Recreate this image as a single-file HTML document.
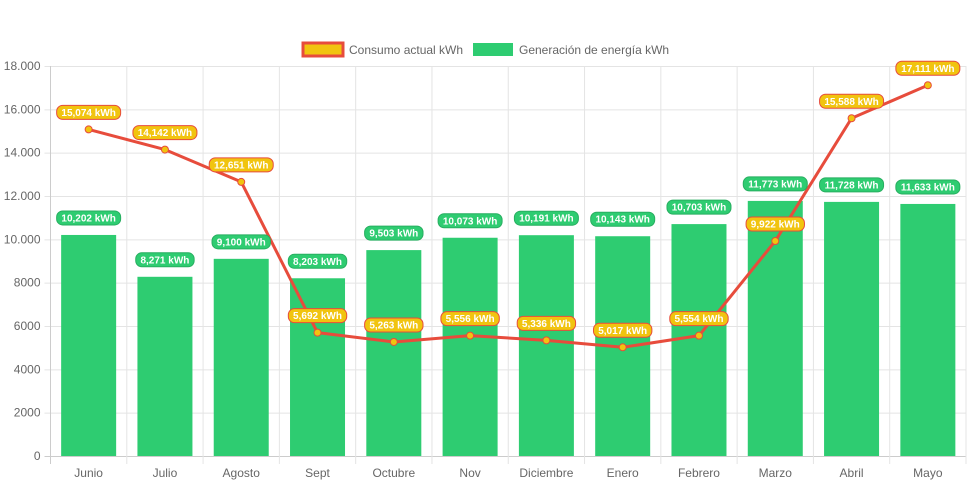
<!DOCTYPE html>
<html><head><meta charset="utf-8"><style>
body{margin:0;background:#fff;font-family:"Liberation Sans",Arial,sans-serif}
svg{display:block}
</style></head><body>
<svg id="chart" width="971" height="485" xmlns="http://www.w3.org/2000/svg">
<g>
<rect x="303" y="43" width="40" height="13" fill="#f1c40f" stroke="#e74c3c" stroke-width="3"/>
<text x="349" y="54" font-size="12" fill="#666">Consumo actual kWh</text>
<rect x="473" y="43" width="40" height="13" fill="#2ecc71"/>
<text x="519" y="54" font-size="12" fill="#666">Generación de energía kWh</text>
</g>
<g id="grid"></g><g id="bars"></g><g id="line"></g><g id="labels"></g>
</svg>
<script>
const categories=["Junio","Julio","Agosto","Sept","Octubre","Nov","Diciembre","Enero","Febrero","Marzo","Abril","Mayo"];
const generacion=[10202,8271,9100,8203,9503,10073,10191,10143,10703,11773,11728,11633];
const consumo=[15074,14142,12651,5692,5263,5556,5336,5017,5554,9922,15588,17111];
const yTicks=[0,2000,4000,6000,8000,10000,12000,14000,16000,18000];
const yTickLabels=["0","2000","4000","6000","8000","10.000","12.000","14.000","16.000","18.000"];
const NS="http://www.w3.org/2000/svg";
const L=50.5,R=966,T=66,B=456,maxY=18000;
const bw=(R-L)/categories.length;
const y=v=>B-(v/maxY)*(B-T);
const xc=i=>L+bw*(i+0.5);
function mk(tag,attrs,parent,txt){const e=document.createElementNS(NS,tag);for(const k in attrs)e.setAttribute(k,attrs[k]);if(txt!==undefined)e.textContent=txt;document.getElementById(parent).appendChild(e);return e;}
yTicks.forEach((t,i)=>{
 const g=mk('line',{x1:L-6,x2:R,y1:y(t)+0.5,y2:y(t)+0.5,stroke:i==0?'#ccc':'#e4e4e4','stroke-width':1},'grid');
 
 
 const tx=mk('text',{x:L-10,y:y(t)+4,'text-anchor':'end','font-size':12,fill:'#666'},'grid',yTickLabels[i]);
 
 
});
for(let i=0;i<=categories.length;i++){
 const gl=mk('line',{x1:L+bw*i,x2:L+bw*i,y1:T,y2:B+8,stroke:i==0?'#ccc':'#e4e4e4','stroke-width':1},'grid');
 
 
}
categories.forEach((c,i)=>{
 const tx=mk('text',{x:xc(i),y:B+21,'text-anchor':'middle','font-size':12,fill:'#666'},'grid',c);
 
 
});
function label(cx,cy,txt,fill,stroke){
 const w=txt.length*5.6+8;
 const r=mk('rect',{x:cx-w/2,y:cy-7,width:w,height:14,rx:6,fill:fill,stroke:stroke,'stroke-width':1},'labels');
 
 
 const t=mk('text',{x:cx,y:cy+3.5,'text-anchor':'middle','font-size':10,'font-weight':'bold',fill:'#fff'},'labels',txt);
 
 
}
const fmt=v=>v.toLocaleString('en-US')+' kWh';
generacion.forEach((v,i)=>{
 const b=mk('rect',{x:xc(i)-27.5,y:y(v),width:55,height:B-y(v),fill:'#2ecc71'},'bars');
 
 
 label(xc(i),y(v)-17,fmt(v),'#2ecc71','#27ae60');
});
const pts=consumo.map((v,i)=>xc(i)+','+y(v)).join(' ');
const pl=mk('polyline',{points:pts,fill:'none',stroke:'#e74c3c','stroke-width':3,'stroke-linejoin':'round'},'line');


consumo.forEach((v,i)=>{
 const p=mk('circle',{cx:xc(i),cy:y(v),r:3.5,fill:'#f1c40f',stroke:'#e74c3c','stroke-width':1},'line');
 
 
 label(xc(i),y(v)-17,fmt(v),'#f1c40f','#e74c3c');
});
</script>
</body></html>
